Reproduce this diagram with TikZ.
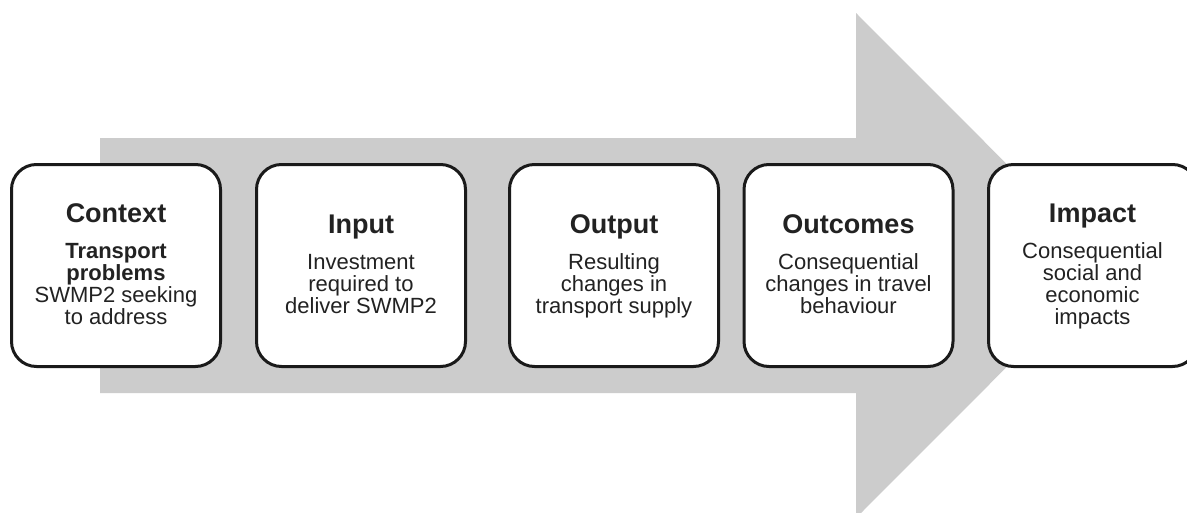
\documentclass[tikz,border=0pt]{standalone}
\usepackage{fontspec}
\setmainfont{Liberation Sans}
\definecolor{arrowgray}{HTML}{CCCCCC}
\definecolor{boxline}{HTML}{1A1A1A}
\definecolor{txt}{HTML}{222222}
\newcommand\linestack[1]{\vtop{\baselineskip=22pt\lineskiplimit=-30pt\lineskip=0pt\halign{\hfil##\hfil\cr#1\crcr}}}
\tikzset{
  stagebox/.style={draw=boxline, line width=3pt, fill=white, rounded corners=25pt,
    minimum width=209pt, minimum height=202pt, inner sep=0pt},
  stagetitle/.style={anchor=base, inner sep=0pt, text=txt,
    font=\fontsize{27}{30}\selectfont\bfseries},
  stagebody/.style={anchor=base, inner sep=0pt, text=txt,
    font=\fontsize{22}{22}\selectfont},
}
\begin{document}
\begin{tikzpicture}[x=1pt,y=-1pt]
\clip (0,0) rectangle (1187,512);
\fill[white] (0,0) rectangle (1187,512);
% big arrow
\fill[arrowgray] (100,138) -- (856,138) -- (856,13) -- (1108,265.5) -- (856,518)
  -- (856,393) -- (100,393) -- cycle;
% boxes
\node[stagebox] (ctx) at (116,265.5) {};
\node[stagebox] (inp) at (361,265.5) {};
\node[stagebox] (out) at (614,265.5) {};
\node[stagebox] (outc) at (848.5,265.5) {};
\node[stagebox] (imp) at (1093,265.5) {};
% texts
\node[stagetitle] (ctxT) at (116,222) {Context};
\node[stagebody] (ctxB) at (116,258) {\linestack{\bfseries Transport\cr\bfseries problems\cr SWMP2 seeking\cr to address}};
\node[stagetitle] (inpT) at (361,233.5) {Input};
\node[stagebody] (inpB) at (361,269.5) {\linestack{Investment\cr required to\cr deliver SWMP2}};
\node[stagetitle] (outT) at (614,233.5) {Output};
\node[stagebody] (outB) at (614,269.5) {\linestack{Resulting\cr changes in\cr transport supply}};
\node[stagetitle] (outcT) at (848.5,233.5) {Outcomes};
\node[stagebody] (outcB) at (848.5,269.5) {\linestack{Consequential\cr changes in travel\cr behaviour}};
\node[stagetitle] (impT) at (1092.5,222) {Impact};
\node[stagebody] (impB) at (1092.5,258) {\linestack{Consequential\cr social and\cr economic\cr impacts}};
\end{tikzpicture}
\end{document}
